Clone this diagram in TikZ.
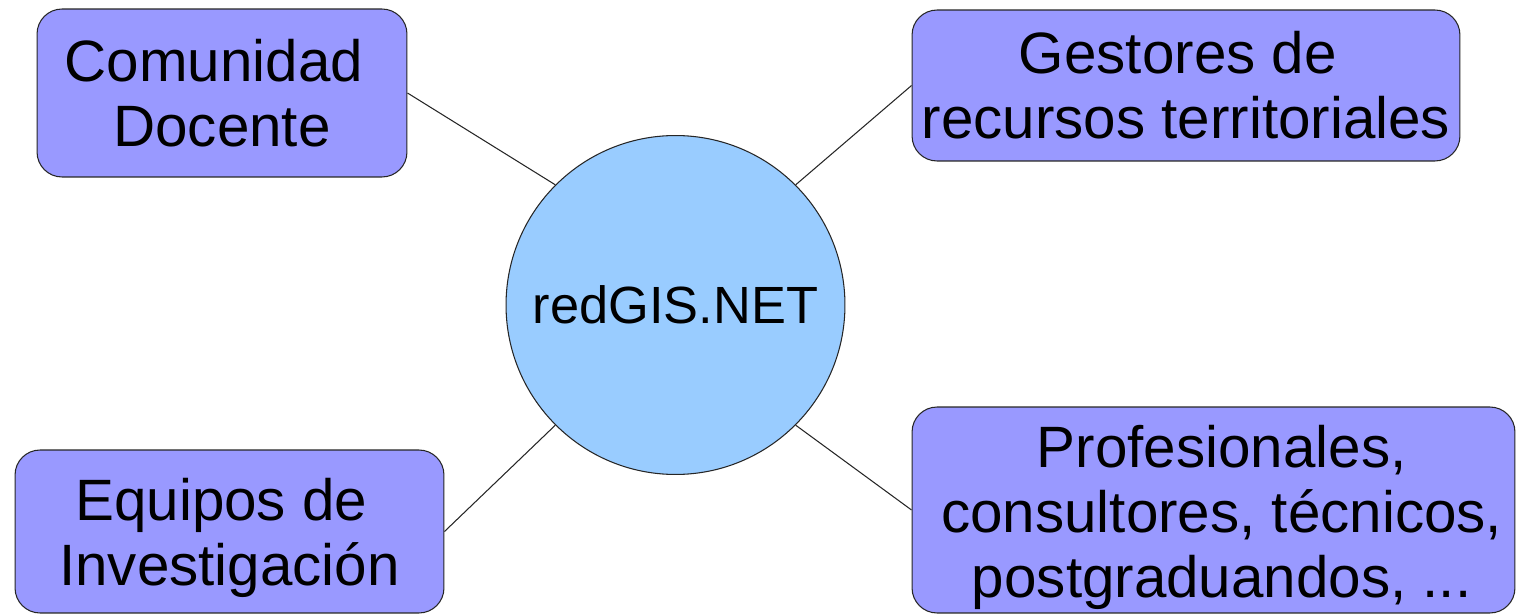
\documentclass[tikz,border=0pt]{standalone}
\usepackage{fontspec}
\setmainfont{Liberation Sans}
\usetikzlibrary{shapes,positioning,calc}
\definecolor{boxblue}{HTML}{9999FF}
\definecolor{netblue}{HTML}{99CCFF}
\tikzstyle{group} = [rectangle, draw=black!85, fill=boxblue, align=center, rounded corners=0.5cm, inner sep=0pt, font=\fontsize{33.2}{37}\selectfont]
\tikzstyle{hub} = [circle, draw=black!85, fill=netblue, inner sep=0pt, minimum size=6.78cm, font=\fontsize{29.8}{34}\selectfont]
\tikzstyle{link} = [draw=black!85, line width=0.6pt]

\begin{document}
\begin{tikzpicture}[x=0.02cm, y=-0.02cm, line width=0.6pt]
    \useasboundingbox (0,0) rectangle (1516,615);
    \node[hub] (red) at (675.5,305) {redGIS.NET};
    \node[group, minimum width=7.4cm, minimum height=3.36cm] (docente) at (222,93) {Comunidad\hspace*{0.28em}\\Docente};
    \node[group, minimum width=10.96cm, minimum height=3.02cm] (gestores) at (1186,85.5) {Gestores de\hspace*{0.28em}\\recursos territoriales};
    \node[group, minimum width=8.58cm, minimum height=3.26cm] (equipos) at (229.5,531.5) {\rule{0pt}{31pt}Equipos de\hspace*{0.28em}\\Investigación};
    \node[group, minimum width=12.06cm, minimum height=4.12cm] (prof) at (1213.5,510) {\rule{0pt}{32pt}\hspace*{0.28em}Profesionales,\\\hspace*{0.28em}consultores, técnicos,\\\hspace*{0.28em}postgraduandos, ...};

    % enlaces
    \draw[link] (docente.east) -- (red.north west);
    \draw[link] (gestores.west) -- (red.north east);
    \draw[link] (equipos.east) -- (red.south west);
    \draw[link] (prof.west) -- (red.south east);
\end{tikzpicture}
\end{document}
